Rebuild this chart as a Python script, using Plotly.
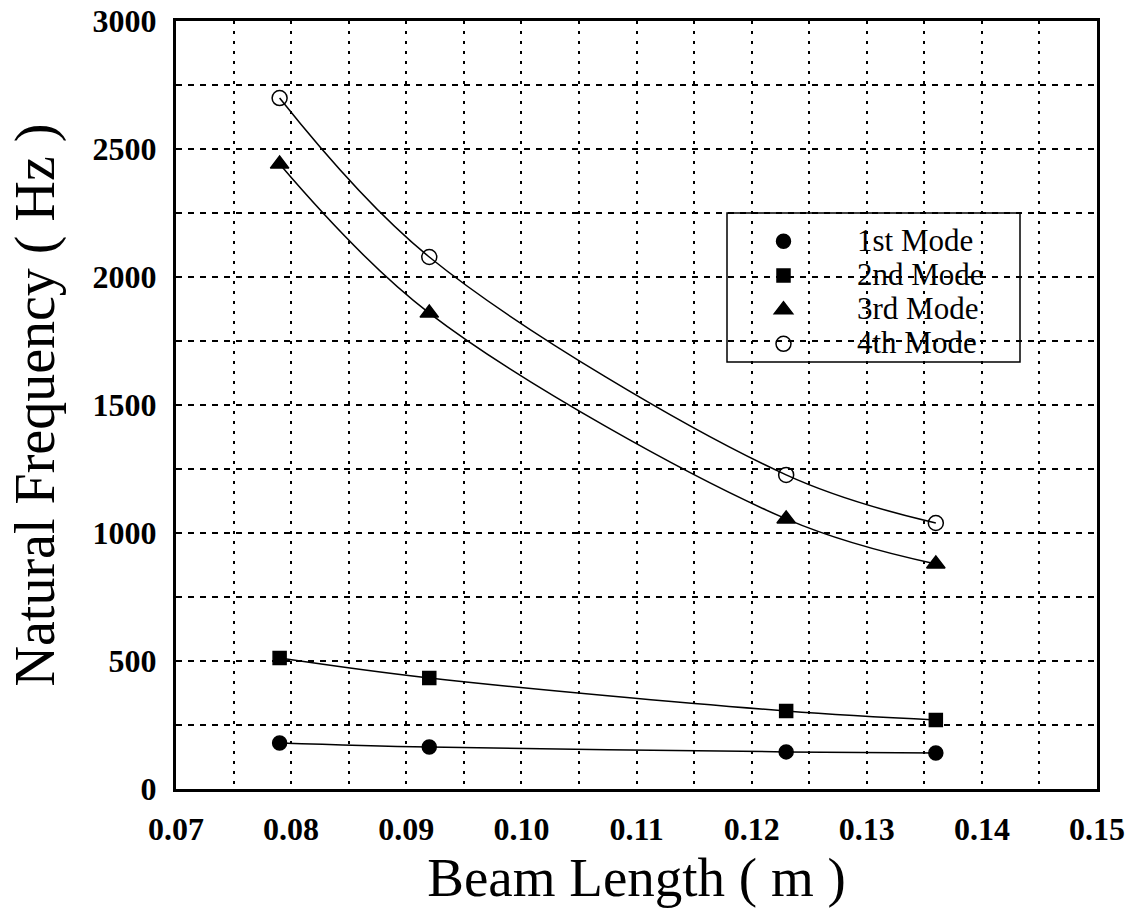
import plotly.graph_objects as go

beam_length = [0.079, 0.092, 0.123, 0.136]
mode1 = [180, 164, 145, 141]
mode2 = [512, 434, 305, 270]
mode3 = [2441, 1859, 1055, 879]
mode4 = [2699, 2078, 1227, 1039]

series = [
    ("1st Mode", mode1, "circle", 14),
    ("2nd Mode", mode2, "square", 13),
    ("3rd Mode", mode3, "triangle-up", 16),
    ("4th Mode", mode4, "circle-open", 15),
]

fig = go.Figure()
for name, vals, sym, sz in series:
    fig.add_trace(go.Scatter(
        x=beam_length, y=vals, name=name, mode="lines+markers", showlegend=False,
        line=dict(color="black", width=1.5, shape="spline", smoothing=1.0),
        marker=dict(symbol=sym, size=sz, color="black",
                    line=dict(color="black", width=1.5)),
    ))
for name, vals, sym, sz in series:
    fig.add_trace(go.Scatter(
        x=[None], y=[None], mode="markers", showlegend=True,
        name='<span style="font-size:31px">' + name + '</span>',
        marker=dict(symbol=sym, size=sz, color="black",
                    line=dict(color="black", width=1.5)),
    ))

font_fam = "Liberation Serif, Times New Roman, serif"

fig.update_layout(
    width=1139, height=909,
    margin=dict(l=176, r=42, t=21, b=120, autoexpand=False),
    paper_bgcolor="white", plot_bgcolor="white",
    font=dict(family=font_fam, color="black"),
    showlegend=True,
    legend=dict(
        x=0.5798, y=0.742, xanchor="left", yanchor="top",
        bgcolor="rgba(0,0,0,0)", borderwidth=0,
        font=dict(size=24, family=font_fam, color="black"),
        itemwidth=137, tracegroupgap=0,
    ),
    shapes=[dict(type="rect", xref="paper", yref="paper",
                 x0=(727-176)/921, x1=(1020-176)/921,
                 y0=(789-362)/768, y1=(789-213)/768,
                 line=dict(color="black", width=1.5),
                 fillcolor="rgba(0,0,0,0)", layer="below")],
)

fig.update_xaxes(
    range=[0.07, 0.15], dtick=0.01, tick0=0.07, tickformat=".2f",
    showgrid=True, gridcolor="black", gridwidth=1.5, griddash="3px,7px",
    minor=dict(dtick=0.005, showgrid=True, gridcolor="black", gridwidth=1.5, griddash="3px,7px"),
    showline=True, linecolor="black", linewidth=3, mirror=True,
    ticks="", ticklabelstandoff=10, zeroline=False, automargin=False,
    tickfont=dict(size=32, family=font_fam, color="black", weight="bold"),
    title=dict(text="Beam Length ( m )", font=dict(size=55, family=font_fam, color="black"), standoff=0),
)
fig.update_yaxes(
    range=[0, 3000], dtick=500,
    showgrid=True, gridcolor="black", gridwidth=1.5, griddash="6px,6px",
    minor=dict(dtick=250, showgrid=True, gridcolor="black", gridwidth=1.5, griddash="6px,6px"),
    showline=True, linecolor="black", linewidth=3, mirror=True,
    ticks="", ticklabelstandoff=10, zeroline=False, automargin=False,
    tickfont=dict(size=32, family=font_fam, color="black", weight="bold"),
    title=dict(text="Natural Frequency ( Hz )", font=dict(size=56, family=font_fam, color="black"), standoff=20),
)

fig.write_html("out.html")
